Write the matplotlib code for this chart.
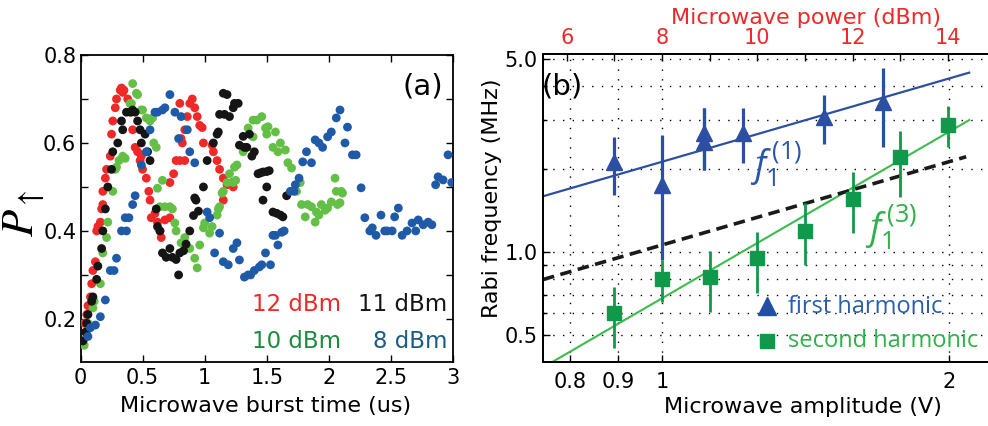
import numpy as np
import matplotlib
matplotlib.use("Agg")
import matplotlib.pyplot as plt
from matplotlib.ticker import FixedLocator, FixedFormatter, NullFormatter, NullLocator

# ---------------- panel (a): P_up versus burst time, four drive powers -------------
# (time in us, probability)
pts_12dBm = [(0.02,0.15),(0.03,0.19),(0.05,0.21),(0.06,0.23),(0.08,0.25),(0.09,0.28),(0.10,0.31),
             (0.12,0.33),(0.13,0.40),(0.14,0.41),(0.16,0.42),(0.17,0.45),(0.18,0.46),(0.18,0.49),
             (0.20,0.52),(0.21,0.54),(0.24,0.57),(0.25,0.62),(0.26,0.65),(0.28,0.68),(0.29,0.70),
             (0.32,0.72),(0.33,0.725),(0.34,0.715),(0.35,0.72),(0.38,0.70),(0.40,0.69),(0.41,0.67),
             (0.42,0.63),(0.44,0.59),(0.46,0.58),(0.48,0.56),(0.49,0.57),(0.50,0.54),(0.53,0.52),
             (0.55,0.49),(0.56,0.47),(0.57,0.43),(0.60,0.44),(0.62,0.42),(0.64,0.40),(0.65,0.385),
             (0.68,0.425),(0.72,0.43),(0.72,0.51),(0.75,0.53),(0.77,0.56),(0.80,0.56),(0.80,0.69),
             (0.81,0.61),(0.82,0.60),(0.84,0.63),(0.84,0.56),(0.86,0.66),(0.88,0.69),(0.90,0.70),
             (0.92,0.68),(0.94,0.66),(0.96,0.64),(0.98,0.635),(0.99,0.60),(1.06,0.595),(1.07,0.58),
             (1.10,0.56),(1.12,0.54),(1.15,0.52),(1.15,0.47),(1.18,0.505),(1.22,0.51),(1.23,0.50)]

pts_11dBm = [(0.02,0.15),(0.04,0.17),(0.05,0.19),(0.06,0.21),(0.09,0.24),(0.10,0.25),(0.13,0.29),
             (0.14,0.32),(0.17,0.36),(0.18,0.40),(0.20,0.45),(0.22,0.50),(0.25,0.54),(0.26,0.58),
             (0.30,0.60),(0.33,0.65),(0.34,0.63),(0.37,0.67),(0.40,0.67),(0.42,0.675),(0.44,0.67),
             (0.46,0.65),(0.48,0.63),(0.49,0.60),(0.52,0.62),(0.54,0.58),(0.56,0.56),(0.61,0.45),
             (0.62,0.41),(0.64,0.40),(0.66,0.35),(0.69,0.34),(0.72,0.36),(0.74,0.34),(0.77,0.335),
             (0.79,0.30),(0.80,0.35),(0.83,0.355),(0.85,0.37),(0.88,0.40),(0.91,0.435),(0.92,0.475),
             (0.93,0.47),(0.95,0.445),(0.99,0.50),(1.02,0.56),(1.07,0.60),(1.10,0.62),(1.11,0.625),
             (1.12,0.665),(1.15,0.713),(1.16,0.665),(1.18,0.71),(1.20,0.66),(1.23,0.68),(1.24,0.69),
             (1.27,0.69),(1.28,0.595),(1.31,0.615),(1.32,0.59),(1.34,0.59),(1.36,0.62),(1.38,0.57),
             (1.40,0.58),(1.43,0.53),(1.45,0.532),(1.47,0.534),(1.50,0.535),(1.52,0.537),(1.50,0.50),
             (1.47,0.47),(1.55,0.443),(1.58,0.44),(1.61,0.436),(1.63,0.432),(1.66,0.48)]

pts_10dBm = [(0.03,0.14),(0.05,0.17),(0.06,0.19),(0.10,0.225),(0.11,0.24),(0.16,0.28),(0.18,0.35),
             (0.21,0.385),(0.22,0.42),(0.26,0.49),(0.28,0.54),(0.29,0.545),(0.31,0.56),(0.34,0.57),
             (0.36,0.565),(0.40,0.69),(0.41,0.69),(0.42,0.735),(0.45,0.713),(0.46,0.71),(0.49,0.675),
             (0.50,0.675),(0.53,0.657),(0.56,0.65),(0.58,0.657),(0.59,0.60),(0.61,0.59),(0.62,0.497),
             (0.64,0.455),(0.66,0.515),(0.68,0.455),(0.72,0.455),(0.74,0.45),(0.76,0.418),(0.77,0.40),
             (0.81,0.373),(0.84,0.385),(0.88,0.36),(0.92,0.338),(0.94,0.316),(0.96,0.368),(0.99,0.407),
             (1.00,0.418),(1.04,0.395),(1.06,0.41),(1.10,0.436),(1.11,0.45),(1.12,0.455),(1.14,0.486),
             (1.15,0.49),(1.18,0.51),(1.20,0.53),(1.23,0.51),(1.24,0.545),(1.25,0.515),(1.26,0.55),
             (1.31,0.58),(1.35,0.634),(1.39,0.652),(1.39,0.614),(1.42,0.652),(1.46,0.66),(1.49,0.634),
             (1.50,0.62),(1.51,0.637),(1.55,0.59),(1.57,0.625),(1.59,0.58),(1.61,0.60),(1.65,0.584),
             (1.67,0.555),(1.70,0.543),(1.74,0.49),(1.77,0.51),(1.78,0.46),(1.81,0.432),(1.83,0.46),
             (1.86,0.455),(1.89,0.42),(1.90,0.443),(1.92,0.436),(1.94,0.46),(1.97,0.447),(1.99,0.452),
             (2.02,0.466),(2.05,0.52),(2.06,0.49),(2.07,0.46),(2.09,0.464),(2.10,0.49),(2.11,0.486)]

pts_8dBm = [(0.06,0.16),(0.08,0.18),(0.12,0.186),(0.16,0.205),(0.20,0.243),(0.24,0.31),(0.27,0.31),
            (0.29,0.338),(0.33,0.40),(0.36,0.43),(0.37,0.40),(0.39,0.43),(0.42,0.46),(0.44,0.48),
            (0.49,0.55),(0.53,0.58),(0.56,0.63),(0.60,0.67),(0.62,0.67),(0.66,0.675),(0.68,0.68),
            (0.72,0.71),(0.76,0.67),(0.79,0.61),(0.81,0.66),(0.86,0.63),(0.88,0.58),(0.92,0.555),
            (1.02,0.443),(1.04,0.43),(1.08,0.35),(1.12,0.395),(1.15,0.33),(1.19,0.323),(1.23,0.36),
            (1.26,0.373),(1.28,0.334),(1.32,0.295),(1.35,0.30),(1.37,0.30),(1.40,0.31),(1.44,0.318),
            (1.46,0.323),(1.49,0.35),(1.53,0.323),(1.55,0.39),(1.57,0.39),(1.59,0.368),(1.62,0.397),
            (1.64,0.40),(1.69,0.49),(1.72,0.49),(1.73,0.505),(1.76,0.52),(1.79,0.557),(1.82,0.58),
            (1.86,0.555),(1.89,0.607),(1.92,0.60),(1.95,0.59),(1.99,0.614),(2.02,0.625),(2.06,0.657),
            (2.09,0.675),(2.13,0.60),(2.15,0.636),(2.19,0.573),(2.22,0.573),(2.26,0.498),(2.29,0.43),
            (2.33,0.40),(2.35,0.407),(2.38,0.39),(2.42,0.436),(2.45,0.40),(2.47,0.40),(2.51,0.40),
            (2.53,0.432),(2.56,0.452),(2.59,0.39),(2.63,0.40),(2.67,0.418),(2.70,0.40),(2.72,0.425),
            (2.76,0.414),(2.80,0.42),(2.83,0.414),(2.86,0.505),(2.88,0.523),(2.92,0.516),(2.96,0.573),
            (2.99,0.51)]

power_labels = ["12 dBm", "11 dBm", "10 dBm", "8 dBm"]

# ---------------- panel (b): Rabi frequency versus drive amplitude ----------------
amp_first = [0.891, 1.0, 1.107, 1.107, 1.216, 1.479, 1.706]
rabi_first = [2.12, 1.75, 2.70, 2.50, 2.70, 3.08, 3.50]
rabi_first_lo = [1.61, 0.935, 1.98, 1.98, 2.10, 2.46, 2.40]
rabi_first_hi = [2.61, 2.65, 3.32, 3.32, 3.32, 3.71, 4.64]

amp_second = [0.891, 1.0, 1.122, 1.259, 1.413, 1.585, 1.778, 1.995]
rabi_second = [0.601, 0.798, 0.812, 0.951, 1.19, 1.556, 2.21, 2.88]
rabi_second_lo = [0.449, 0.659, 0.606, 0.710, 0.897, 1.17, 1.58, 2.40]
rabi_second_hi = [0.747, 0.935, 1.008, 1.18, 1.50, 1.95, 2.74, 3.38]

# power-law fits  f = a * V**n  (a, n, V range)
fit_first = (2.12, 1.0, 0.75, 2.10)
fit_second = (0.68, 2.0, 0.75, 2.10)
fit_half_first = (1.06, 1.0, 0.75, 2.085)

power_ticks_major = [6, 8, 10, 12, 14]
power_ticks_minor = [5, 7, 9, 11, 13, 15]
amp_ticks = [0.8, 0.9, 1, 2]
amp_ticklabels = ["0.8", "0.9", "1", "2"]
rabi_ticks = [0.5, 1.0, 5.0]
rabi_ticklabels = ["0.5", "1.0", "5.0"]
rabi_minor = [0.6, 0.7, 0.8, 0.9, 2, 3, 4]

# ---------------- figure ----------------
W, H = 988, 426
fig = plt.figure(figsize=(W / 100, H / 100), dpi=100)


def fpos(x0, y0, x1, y1):
    """axes rectangle from pixel corners (top-left origin)"""
    return [x0 / W, 1 - y1 / H, (x1 - x0) / W, (y1 - y0) / H]


def fxy(x, y):
    return x / W, 1 - y / H


RED = "#f02828"
BLACK = "#151515"
LGREEN = "#63bf45"
BLUE = "#1f5aa8"
TICK_FS = 15

# ---- panel (a)
axa = fig.add_axes(fpos(80.5, 55, 453, 362))
for pts, col in [(pts_12dBm, RED), (pts_10dBm, LGREEN), (pts_11dBm, BLACK), (pts_8dBm, BLUE)]:
    arr = np.array(pts)
    axa.scatter(arr[:, 0], arr[:, 1], s=40, color=col, edgecolors="none", zorder=3)

axa.set_xlim(0, 3)
axa.set_ylim(0.102, 0.8)
axa.set_xticks([0, 0.5, 1, 1.5, 2, 2.5, 3])
axa.set_xticklabels(["0", "0.5", "1", "1.5", "2", "2.5", "3"])
axa.set_yticks([0.2, 0.3, 0.4, 0.5, 0.6, 0.7, 0.8])
axa.set_yticklabels(["0.2", "", "0.4", "", "0.6", "", "0.8"])
axa.tick_params(direction="in", top=True, right=True, length=5, width=1,
                labelsize=TICK_FS, pad=4)
axa.tick_params(axis="y", pad=3)
for sp in axa.spines.values():
    sp.set_linewidth(1.3)

fig.text(*fxy(266, 412), "Microwave burst time (us)", fontsize=16, ha="center", va="baseline")
fig.text(*fxy(24, 213), r"$P_{\uparrow}$", fontsize=32, rotation=90, ha="center", va="center",
         math_fontfamily="stix")
fig.text(*fxy(423, 86), "(a)", fontsize=21, ha="center", va="center")

label_colors = [RED, BLACK, "#1c8c3e", "#1b5c85"]
label_pos = [(252, 311, "left"), (447, 311, "right"), (252, 348, "left"), (447, 348, "right")]
for txt, col, (x, y, ha) in zip(power_labels, label_colors, label_pos):
    fig.text(*fxy(x, y), txt, color=col, fontsize=16.5, ha=ha, va="baseline")

# ---- panel (b)
axb = fig.add_axes(fpos(543, 54, 1067, 362))
axb.set_xscale("log")
axb.set_yscale("log")
axb.set_xlim(0.75, 2.66)
axb.set_ylim(0.40, 5.2)

axb.xaxis.set_major_locator(FixedLocator(amp_ticks))
axb.xaxis.set_major_formatter(FixedFormatter(amp_ticklabels))
axb.xaxis.set_minor_locator(NullLocator())
axb.yaxis.set_major_locator(FixedLocator(rabi_ticks))
axb.yaxis.set_major_formatter(FixedFormatter(rabi_ticklabels))
axb.yaxis.set_minor_locator(FixedLocator(rabi_minor))
axb.yaxis.set_minor_formatter(NullFormatter())

grid_kw = dict(color="black", linestyle=(0, (1, 6)), linewidth=1.0)
axb.grid(True, which="major", axis="x", **grid_kw)
axb.grid(True, which="both", axis="y", **grid_kw)
axb.tick_params(axis="both", which="both", direction="in", top=False, right=False,
                labelsize=TICK_FS, width=1)
axb.tick_params(axis="both", which="major", length=5)
axb.tick_params(axis="both", which="minor", length=3)
axb.tick_params(axis="x", pad=7)
axb.tick_params(axis="y", pad=4)
for sp in axb.spines.values():
    sp.set_linewidth(1.3)

BLUE_B = "#2d4fa3"
GREEN_B = "#12984a"
LINE_GREEN = "#3cbc4c"

for (a, n, v0, v1), col, ls, lw in [(fit_first, BLUE_B, "-", 1.6),
                                     (fit_second, LINE_GREEN, "-", 1.5),
                                     (fit_half_first, "#1a1a1a", (0, (3.2, 1.8)), 2.6)]:
    v = np.geomspace(v0, v1, 50)
    axb.plot(v, a * v ** n, color=col, linestyle=ls, linewidth=lw, zorder=3)

rf = np.array(rabi_first)
axb.errorbar(amp_first, rf, yerr=[rf - np.array(rabi_first_lo), np.array(rabi_first_hi) - rf],
             fmt="^", color=BLUE_B, ms=11, elinewidth=2.3, capsize=0, zorder=4)
rs = np.array(rabi_second)
axb.errorbar(amp_second, rs, yerr=[rs - np.array(rabi_second_lo), np.array(rabi_second_hi) - rs],
             fmt="s", color=GREEN_B, ms=9.5, elinewidth=2.0, capsize=0, zorder=4)

# top axis: drive power in dBm
axt = axb.twiny()
axt.set_xscale("log")
axt.set_xlim(axb.get_xlim())
axt.xaxis.set_major_locator(FixedLocator([10 ** ((p - 8) / 20) for p in power_ticks_major]))
axt.xaxis.set_major_formatter(FixedFormatter([str(p) for p in power_ticks_major]))
axt.xaxis.set_minor_locator(FixedLocator([10 ** ((p - 8) / 20) for p in power_ticks_minor]))
axt.xaxis.set_minor_formatter(NullFormatter())
axt.tick_params(axis="x", which="both", direction="in", labelcolor=RED, labelsize=TICK_FS, pad=4,
                width=1)
axt.tick_params(axis="x", which="major", length=5)
axt.tick_params(axis="x", which="minor", length=5)
for sp in axt.spines.values():
    sp.set_linewidth(1.3)

fig.text(*fxy(806, 24), "Microwave power (dBm)", color=RED, fontsize=16, ha="center", va="baseline")
fig.text(*fxy(803, 413), "Microwave amplitude (V)", fontsize=16, ha="center", va="baseline")
fig.text(*fxy(492, 198), "Rabi frequency (MHz)", fontsize=16, rotation=90, ha="center", va="center")
fig.text(*fxy(562, 86), "(b)", fontsize=21, ha="center", va="center")

plt.rcParams["mathtext.fontset"] = "custom"
plt.rcParams["mathtext.it"] = "Open Sans:italic"
plt.rcParams["mathtext.rm"] = "Open Sans"
fig.text(*fxy(750, 177), r"$f_1^{\,\mathrm{(1)}}$", color="#2b55a6", fontsize=26, va="baseline",
         math_fontfamily="custom")
fig.text(*fxy(865, 240), r"$f_1^{\,\mathrm{(3)}}$", color="#30b04a", fontsize=26, va="baseline",
         math_fontfamily="custom")

# in-axes key
axb.plot([(767 - 543) / 524], [(362 - 306) / 308], "^", color="#1f50a6", ms=13,
         transform=axb.transAxes, clip_on=False)
axb.plot([(767 - 543) / 524], [(362 - 341) / 308], "s", color=GREEN_B, ms=9.5,
         transform=axb.transAxes, clip_on=False)
fig.text(*fxy(788, 313), "first harmonic", color="#2a5db0", fontsize=17, family="Open Sans",
         va="baseline")
fig.text(*fxy(788, 347), "second harmonic", color="#2eb34a", fontsize=17, family="Open Sans",
         va="baseline")

fig.savefig("out.png", dpi=100)
